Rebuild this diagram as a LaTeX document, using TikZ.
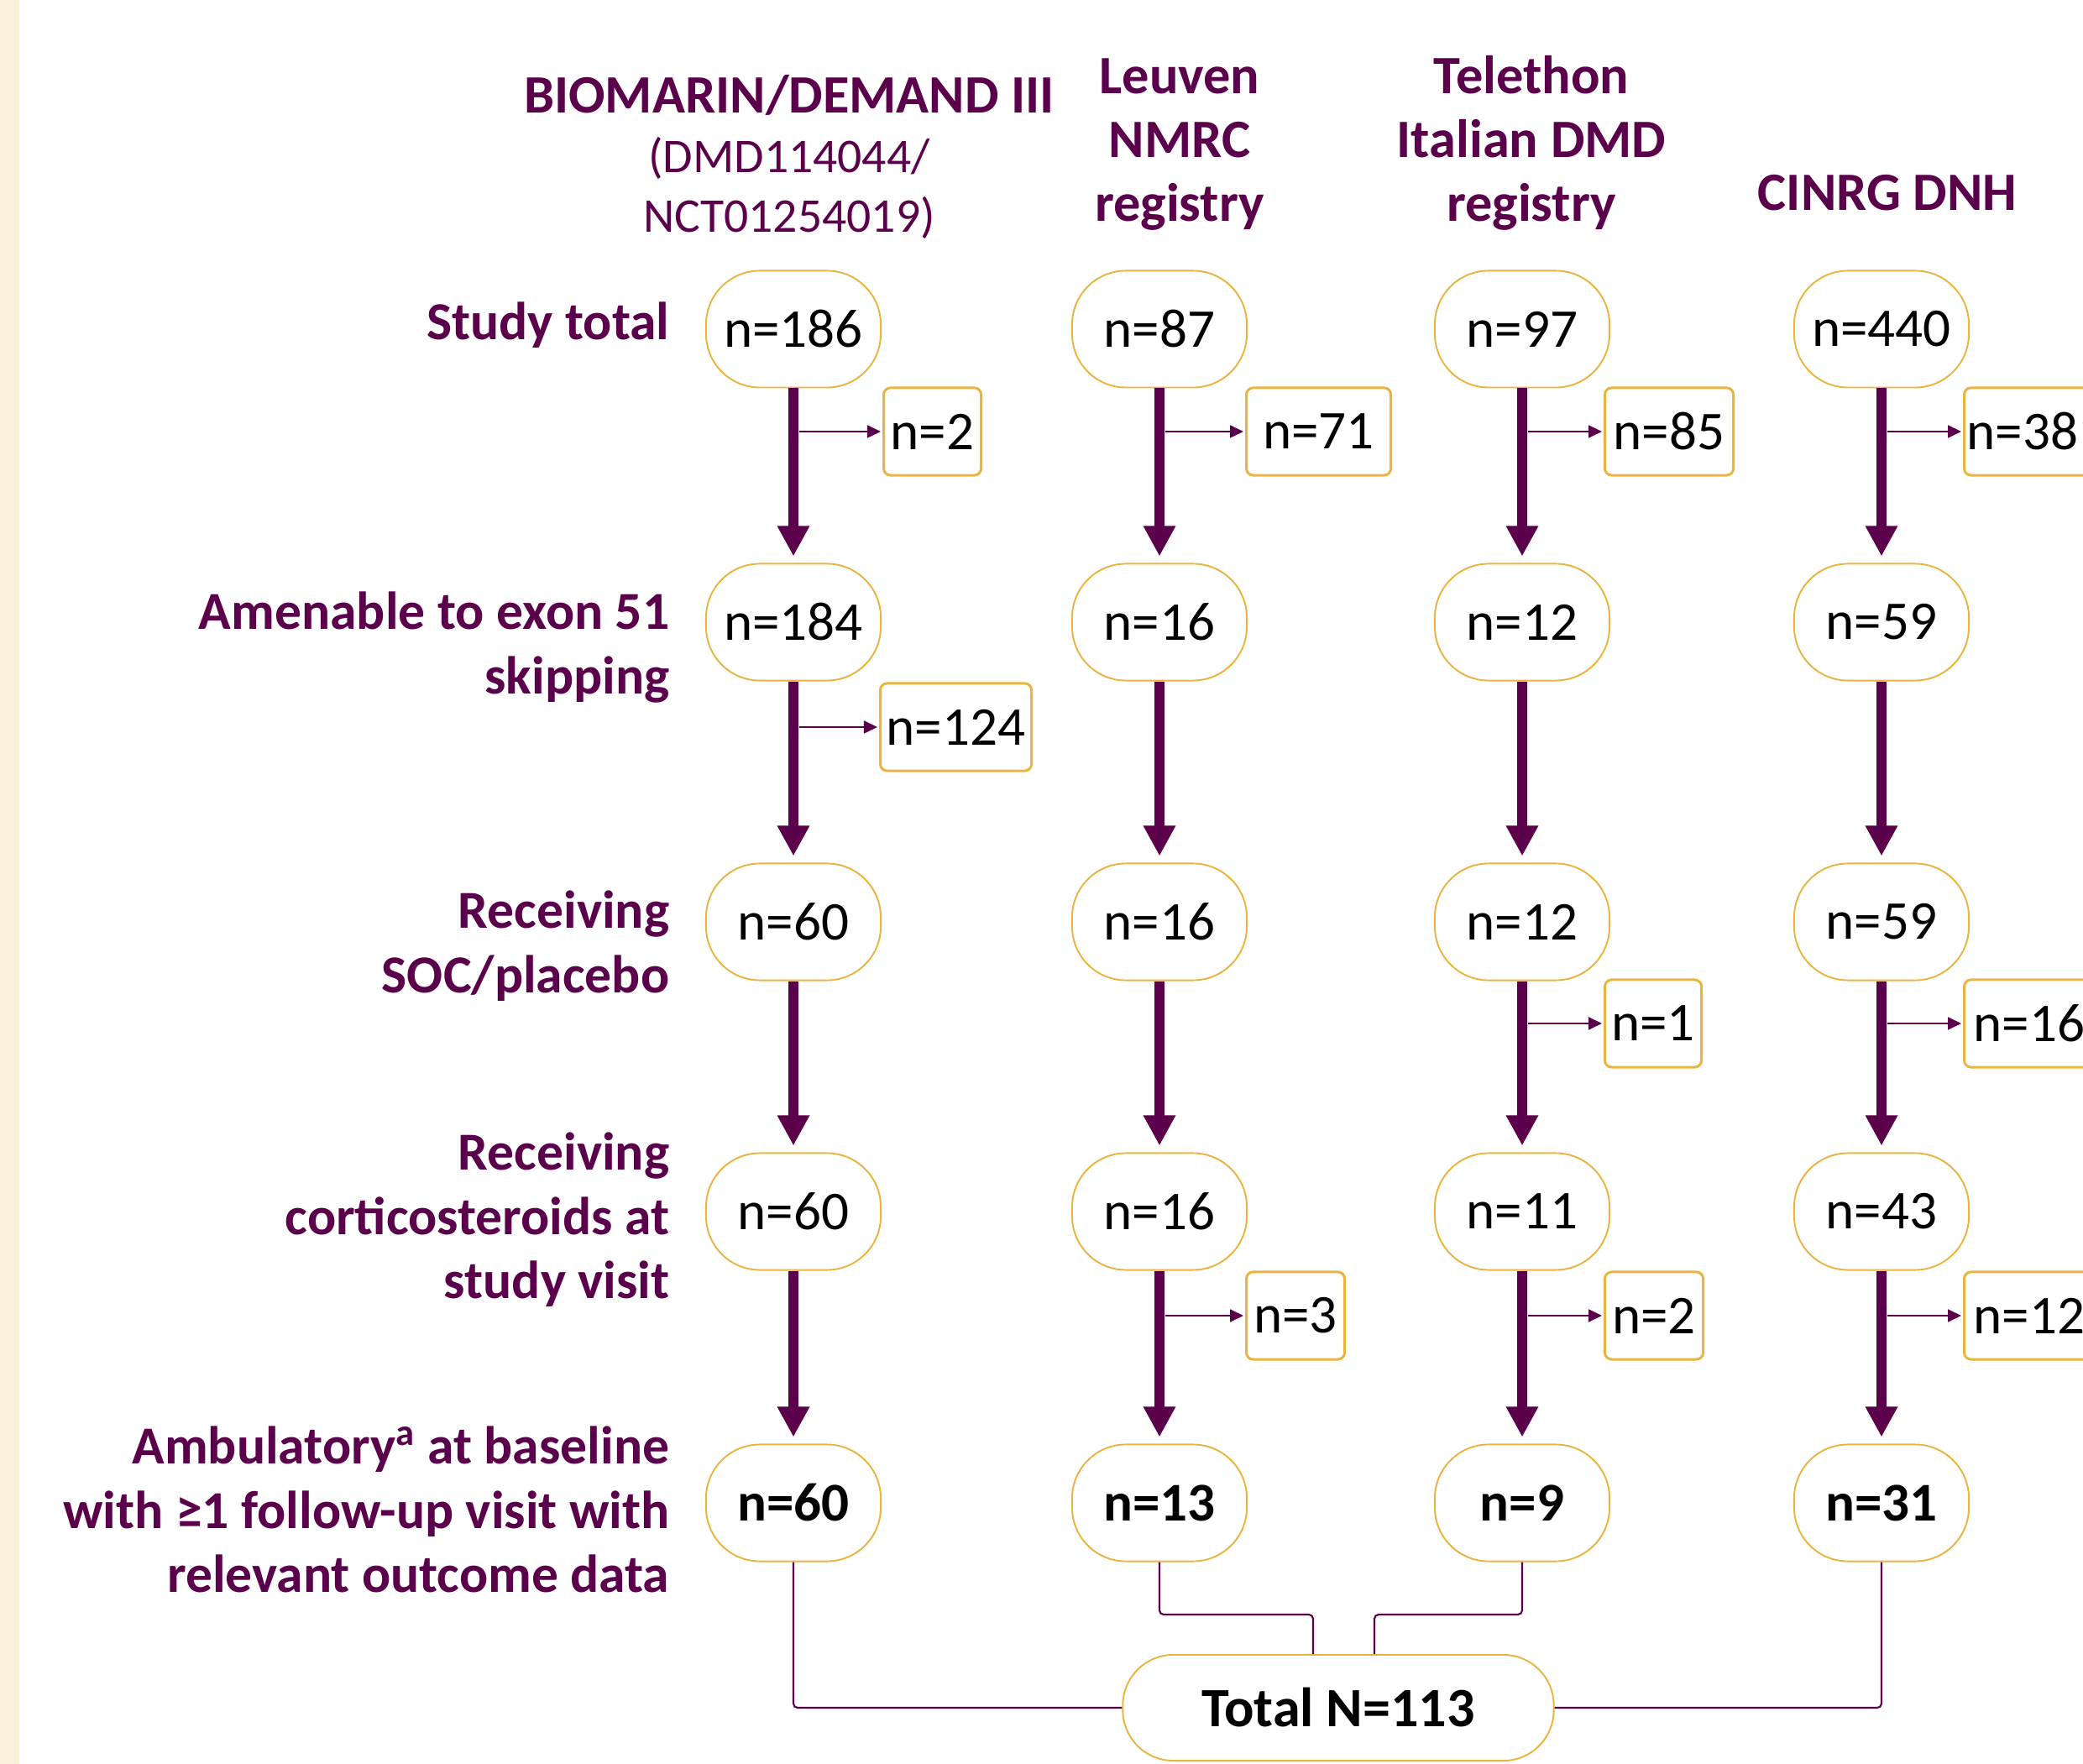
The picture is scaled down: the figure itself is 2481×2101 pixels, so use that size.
\documentclass[tikz,border=0pt]{standalone}
\usepackage{fontspec}
\setmainfont{Carlito}
\usetikzlibrary{arrows.meta,calc}
\definecolor{plum}{HTML}{5B004B}
\definecolor{gold}{HTML}{E9B440}
\definecolor{cream}{HTML}{FAF0D8}
\begin{document}
\begin{tikzpicture}[x=0.01cm,y=-0.01cm,
  pill/.style={draw=gold, line width=0.55pt, fill=white, rounded corners=0.64cm, minimum width=2.08cm, minimum height=1.39cm, inner sep=0pt, text=black, font=\fontsize{18.5}{22}\selectfont},
  pillb/.style={pill, font=\fontsize{18.5}{22}\selectfont\bfseries},
  totalbox/.style={pill, font=\fontsize{18.8}{22}\selectfont\bfseries, minimum width=5.13cm, minimum height=1.26cm, rounded corners=0.6cm},
  exbox/.style={draw=gold, line width=0.85pt, rounded corners=0.08cm, minimum height=1.04cm, inner sep=0pt, anchor=west, text=black, font=\fontsize{18.5}{22}\selectfont},
  rowlab/.style={text=plum, font=\fontsize{18.1}{21.8}\selectfont\bfseries, align=right, inner sep=0pt},
  head/.style={text=plum, font=\fontsize{18.3}{21.6}\selectfont\bfseries, align=center, inner sep=0pt},
  flow/.style={draw=plum, line width=0.12cm, -{Triangle[width=0.36cm,length=0.36cm]}, shorten >=0.08cm},
  side/.style={draw=plum, line width=0.5pt, -{Triangle[width=0.15cm,length=0.16cm]}, shorten >=0.02cm},
  joinline/.style={draw=plum, line width=0.6pt, rounded corners=0.05cm}
]
\useasboundingbox (0,0) rectangle (2481,2101);
\fill[cream] (0,0) rectangle (23,2101);

% headers
\node[head, anchor=north, font=\fontsize{18.3}{20.2}\selectfont] (hA) at (940,89)
  {{\bfseries BIOMARIN/DEMAND III}\\{\fontsize{16.4}{20.2}\selectfont (DMD114044/}\\{\fontsize{16.4}{20.2}\selectfont NCT01254019)}};
\node[head, anchor=north] (hB) at (1405,69) {Leuven\\NMRC\\registry};
\node[head, anchor=north] (hC) at (1824,66) {Telethon\\Italian DMD\\registry};
\node[head, anchor=base] (hD) at (2248,251) {CINRG DNH};

% row labels
\node[rowlab, anchor=base east] (l1) at (798,405) {Study total};
\node[rowlab, anchor=north east] (l2) at (798,704) {Amenable to exon 51\\skipping};
\node[rowlab, anchor=north east] (l3) at (798,1060) {Receiving\\SOC/placebo};
\node[rowlab, anchor=north east] (l4) at (798,1348) {Receiving\\corticosteroids at\\study visit};
\node[rowlab, anchor=north east] (l5) at (798,1698) {Ambulatory\textsuperscript{a} at baseline\\with ≥1 follow-up visit with\\relevant outcome data};

% column A
\node[pill] (a1) at (945,392) {n=186};
\node[pill] (a2) at (945,741) {n=184};
\node[pill] (a3) at (945,1098) {n=60};
\node[pill] (a4) at (945,1443) {n=60};
\node[pillb] (a5) at (945,1790) {n=60};
% column B
\node[pill] (b1) at (1381,392) {n=87};
\node[pill] (b2) at (1381,741) {n=16};
\node[pill] (b3) at (1381,1098) {n=16};
\node[pill] (b4) at (1381,1443) {n=16};
\node[pillb] (b5) at (1381,1790) {n=13};
% column C
\node[pill] (c1) at (1813,392) {n=97};
\node[pill] (c2) at (1813,741) {n=12};
\node[pill] (c3) at (1813,1098) {n=12};
\node[pill] (c4) at (1813,1443) {n=11};
\node[pillb] (c5) at (1813,1790) {n=9};
% column D
\node[pill] (d1) at (2241,392) {n=440};
\node[pill] (d2) at (2241,741) {n=59};
\node[pill] (d3) at (2241,1098) {n=59};
\node[pill] (d4) at (2241,1443) {n=43};
\node[pillb] (d5) at (2241,1790) {n=31};

% exclusion boxes
\node[exbox, minimum width=1.16cm] (xa1) at (1051,514) {n=2};
\node[exbox, minimum width=1.80cm] (xa2) at (1047,866) {n=124};
\node[exbox, minimum width=1.72cm] (xb1) at (1483,514) {n=71};
\node[exbox, minimum width=1.17cm] (xb4) at (1483,1567) {n=3};
\node[exbox, minimum width=1.53cm] (xc1) at (1910,514) {n=85};
\node[exbox, minimum width=1.15cm] (xc3) at (1910,1219) {n=1};
\node[exbox, minimum width=1.17cm] (xc4) at (1910,1567) {n=2};
\node[exbox, minimum width=1.72cm] (xd1) at (2338,514) {n=381};
\node[exbox, minimum width=1.55cm] (xd3) at (2338,1219) {n=16};
\node[exbox, minimum width=1.55cm] (xd4) at (2338,1567) {n=12};

% main flow arrows
\foreach \c in {a,b,c,d}{
  \draw[flow] (\c1.south) -- (\c2.north);
  \draw[flow] (\c2.south) -- (\c3.north);
  \draw[flow] (\c3.south) -- (\c4.north);
  \draw[flow] (\c4.south) -- (\c5.north);
}

% side arrows
\draw[side] ($(a1.south |- xa1.west)+(7,0)$) -- (xa1.west);
\draw[side] ($(a2.south |- xa2.west)+(7,0)$) -- (xa2.west);
\draw[side] ($(b1.south |- xb1.west)+(7,0)$) -- (xb1.west);
\draw[side] ($(b4.south |- xb4.west)+(7,0)$) -- (xb4.west);
\draw[side] ($(c1.south |- xc1.west)+(7,0)$) -- (xc1.west);
\draw[side] ($(c3.south |- xc3.west)+(7,0)$) -- (xc3.west);
\draw[side] ($(c4.south |- xc4.west)+(7,0)$) -- (xc4.west);
\draw[side] ($(d1.south |- xd1.west)+(7,0)$) -- (xd1.west);
\draw[side] ($(d3.south |- xd3.west)+(7,0)$) -- (xd3.west);
\draw[side] ($(d4.south |- xd4.west)+(7,0)$) -- (xd4.west);

% total
\node[totalbox] (tot) at (1594,2034) {Total N=113};
\coordinate (jb) at (1564,1923);
\coordinate (jc) at (1637,1923);
\draw[joinline] (a5.south) |- (tot.west);
\draw[joinline] (d5.south) |- (tot.east);
\draw[joinline] (b5.south) |- (jb) -- (jb |- tot.north);
\draw[joinline] (c5.south) |- (jc) -- (jc |- tot.north);
\end{tikzpicture}
\end{document}
